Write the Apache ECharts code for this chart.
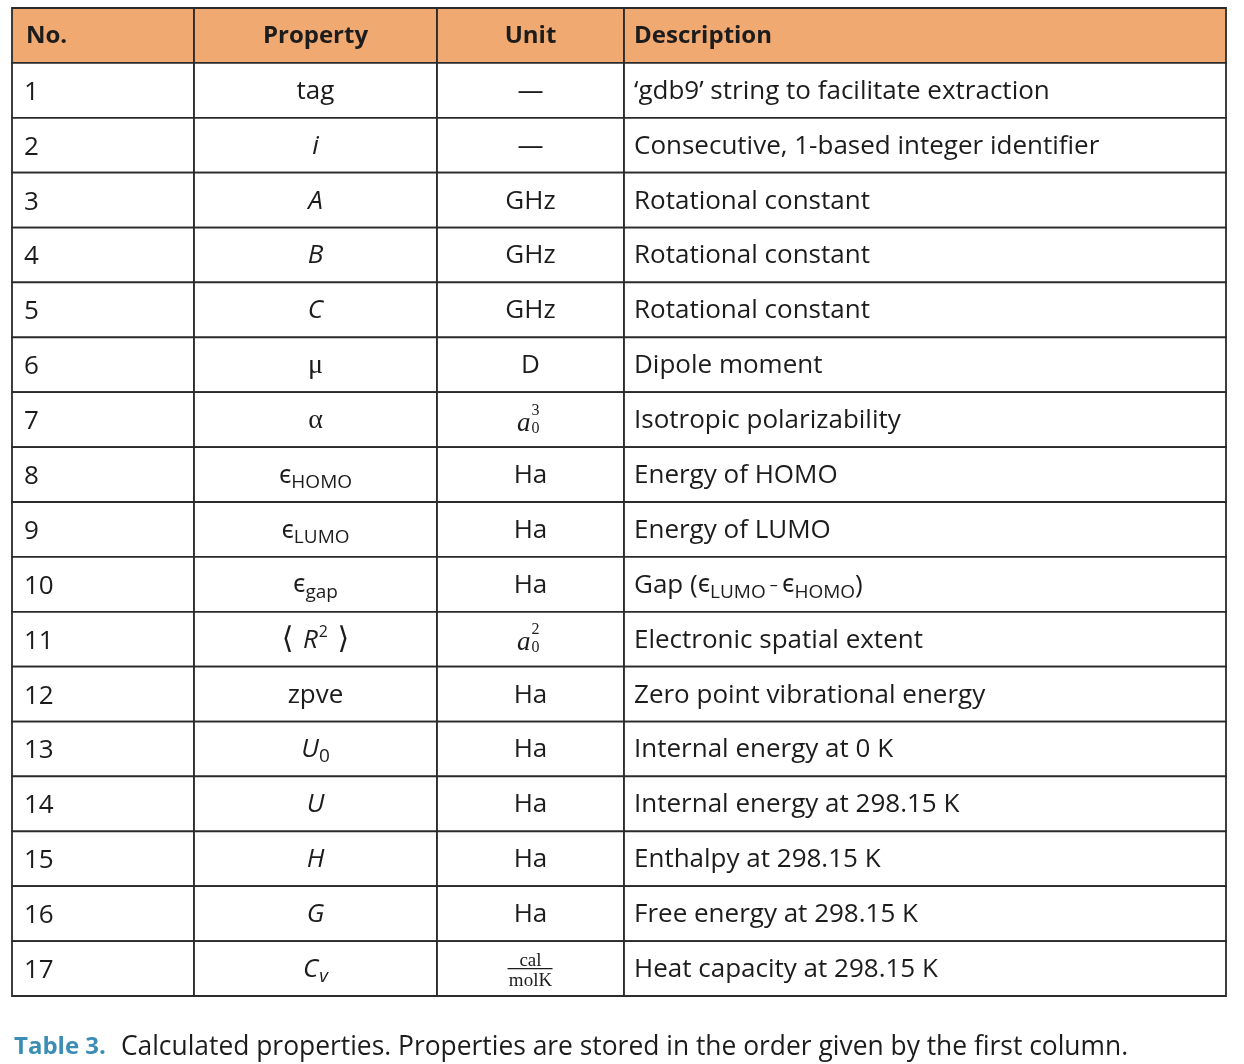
<!DOCTYPE html>
<html><head><meta charset="utf-8">
<script src="https://cdn.jsdelivr.net/npm/echarts@6/dist/echarts.min.js"></script>
<style>html,body{margin:0;padding:0;background:#fff}#c{width:1244px;height:1064px}</style>
</head><body><div id="c"></div>
<script>
// ---- data ----
const headers = ['No.', 'Property', 'Unit', 'Description'];
const numbers = ['1','2','3','4','5','6','7','8','9','10','11','12','13','14','15','16','17'];
const properties = ['tag', '{it|i}', '{it|A}', '{it|B}', '{it|C}', '{gr|μ}', '{gr|α}',
  '{ep|ϵ}{sub|HOMO}', '{ep|ϵ}{sub|LUMO}', '{ep|ϵ}{sub|gap}', '{br|⟨ }{it|R}{sup|2}{br| ⟩}',
  'zpve', '{it|U}{sub|0}', '{it|U}', '{it|H}', '{it|G}', '{it|C}{subit|v}'];
const units = ['—', '—', 'GHz', 'GHz', 'GHz', 'D', 'a0^3', 'Ha', 'Ha', 'Ha', 'a0^2',
  'Ha', 'Ha', 'Ha', 'Ha', 'Ha', 'cal/molK'];
const descriptions = [
  '‘gdb9’ string to facilitate extraction',
  'Consecutive, 1-based integer identifier',
  'Rotational constant', 'Rotational constant', 'Rotational constant',
  'Dipole moment', 'Isotropic polarizability',
  'Energy of HOMO', 'Energy of LUMO',
  'Gap ({ep|ϵ}{sub|LUMO}{mn| – }{ep|ϵ}{sub|HOMO})',
  'Electronic spatial extent', 'Zero point vibrational energy',
  'Internal energy at 0 K', 'Internal energy at 298.15 K', 'Enthalpy at 298.15 K',
  'Free energy at 298.15 K', 'Heat capacity at 298.15 K'];
const captionLabel = 'Table 3.';
const captionText = 'Calculated properties. Properties are stored in the order given by the first column.';

// ---- layout / style ----
const colEdges = [0, 182, 425, 612, 1214];
const headerFill = '#f1a972';
const lineColor = '#2b2b2b';
const textColor = '#1c1c1c';
const SANS = '"Open Sans", "Noto Sans", sans-serif';
const SERIF = '"Liberation Serif", "DejaVu Serif", serif';
const FS = 26;

const rich = {
  it: { fontStyle: 'italic', fontSize: FS, fontFamily: SANS, fill: textColor },
  gr: { fontSize: 28, fontFamily: SERIF, fill: textColor },
  ep: { fontSize: 25, fontFamily: '"Noto Sans", "DejaVu Sans", sans-serif', fill: textColor },
  sub: { fontSize: 19, fontFamily: SANS, fill: textColor, padding: [14, 0, 0, 0] },
  subit: { fontSize: 19, fontStyle: 'italic', fontFamily: SANS, fill: textColor, padding: [14, 0, 0, 1] },
  sup: { fontSize: 16, fontFamily: SANS, fill: textColor, padding: [0, 0, 16, 1] },
  br: { fontSize: 30, fontFamily: '"DejaVu Sans", sans-serif', fill: textColor },
  mn: { fontSize: 16, fontFamily: SANS, fill: textColor }
};

const rows = [['header']].concat(numbers.map(n => [n]));
const data = rows.map((r, i) => [0, i]);

function txt(text, x, y, align, extra) {
  return { type: 'text', style: Object.assign({ text, x, y, align, verticalAlign: 'middle',
    fontSize: FS, fontFamily: SANS, fill: textColor, rich }, extra || {}) };
}

function unitEls(u, cx, cy) {
  if (u.indexOf('a0^') === 0) {
    return [
      txt('a', cx + 0, cy + 3, 'right', { fontFamily: SERIF, fontStyle: 'italic', fontSize: 27 }),
      txt(u.slice(3), cx + 1, cy - 10, 'left', { fontFamily: SERIF, fontSize: 16 }),
      txt('0', cx + 1, cy + 8, 'left', { fontFamily: SERIF, fontSize: 16 })
    ];
  }
  if (u.indexOf('/') > 0) {
    const p = u.split('/');
    return [
      txt(p[0], cx, cy - 9, 'center', { fontFamily: SERIF, fontSize: 19 }),
      { type: 'line', shape: { x1: cx - 23, y1: cy - 1, x2: cx + 22, y2: cy - 1 },
        style: { stroke: textColor, lineWidth: 1.2 } },
      txt(p[1], cx, cy + 11, 'center', { fontFamily: SERIF, fontSize: 19 })
    ];
  }
  return [txt(u, cx, cy, 'center')];
}

function renderItem(params, api) {
  const r = api.value(1);
  const bandH = api.size([0, 1])[1];
  const cy = api.coord([0, r])[1];
  const top = cy - bandH / 2;
  const isHeader = r === 0;
  const xs = colEdges.map(e => api.coord([e, r])[0]);
  const children = [];
  for (let c = 0; c < 4; c++) {
    children.push({ type: 'rect', shape: { x: xs[c], y: top, width: xs[c + 1] - xs[c], height: bandH },
      style: { fill: isHeader ? headerFill : '#ffffff', stroke: lineColor, lineWidth: 1.8 } });
  }
  const ty = cy + 1;
  if (isHeader) {
    const bold = { fontWeight: 'bold', fontSize: 24 };
    children.push(txt(headers[0], xs[0] + 14, ty, 'left', bold));
    children.push(txt(headers[1], (xs[1] + xs[2]) / 2, ty, 'center', bold));
    children.push(txt(headers[2], (xs[2] + xs[3]) / 2, ty, 'center', bold));
    children.push(txt(headers[3], xs[3] + 10, ty, 'left', bold));
  } else {
    const i = r - 1;
    children.push(txt(numbers[i], xs[0] + 12, ty + 1, 'left'));
    children.push(txt(properties[i], (xs[1] + xs[2]) / 2, ty, 'center'));
    unitEls(units[i], (xs[2] + xs[3]) / 2, ty).forEach(e => children.push(e));
    children.push(txt(descriptions[i], xs[3] + 10, ty, 'left'));
  }
  return { type: 'group', children };
}

const chart = echarts.init(document.getElementById('c'), null, { renderer: 'canvas' });
chart.setOption({
  animation: false,
  backgroundColor: '#ffffff',
  title: {
    left: 14, top: 1034, padding: 0,
    text: '{b|' + captionLabel + '}{n|' + captionText + '}',
    textStyle: {
      fontWeight: 'normal',
      rich: {
        b: { fontFamily: SANS, fontSize: 24, fontWeight: 'bold', color: '#3b8db5' },
        n: { fontFamily: SANS, fontSize: 26.4, fontWeight: 'normal', color: textColor, padding: [0, 0, 0, 15] }
      }
    }
  },
  grid: { left: 12, right: 18, top: 8, bottom: 68 },
  xAxis: { type: 'value', min: 0, max: 1214, show: false },
  yAxis: { type: 'category', inverse: true, data: rows.map(r => r[0]), show: false },
  series: [{
    type: 'custom',
    renderItem,
    data,
    clip: false
  }]
});
</script>
</body></html>
